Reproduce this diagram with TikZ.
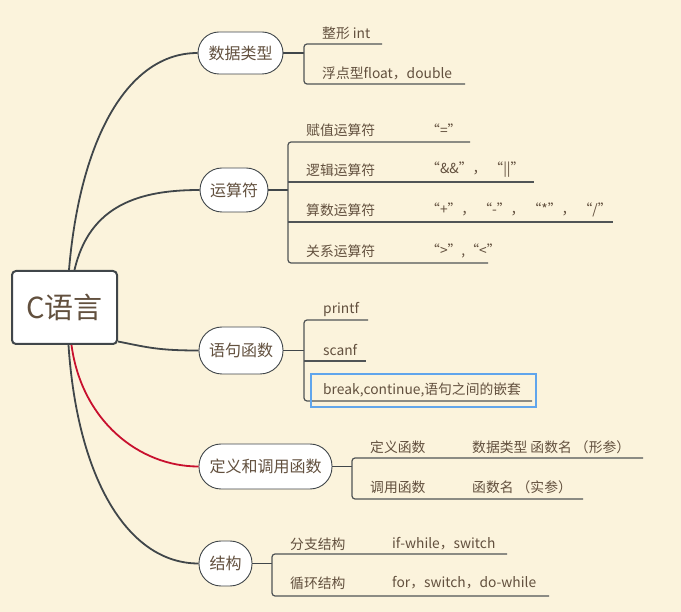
\documentclass[tikz,border=0pt]{standalone}
\usepackage{fontspec}
\setmainfont{Noto Sans CJK SC}
\definecolor{bg}{RGB}{251,243,220}
\definecolor{ln}{RGB}{64,70,74}
\definecolor{tx}{RGB}{98,80,62}
\definecolor{rd}{RGB}{200,16,46}
\definecolor{bl}{RGB}{96,165,236}
\definecolor{ul}{RGB}{80,84,86}
\begin{document}
\begin{tikzpicture}[x=1pt,y=-1pt,
  pill/.style={draw=ln, line width=0.9pt, fill=white, rounded corners=21pt, text=tx, font=\fontsize{16}{18}\selectfont, inner sep=0pt},
  leaf/.style={anchor=west, inner sep=0pt, text=tx, font=\fontsize{13.8}{15}\selectfont},
  conn/.style={draw=ln, line width=1.8pt},
  stub/.style={draw=ln, line width=1.5pt},
  brk/.style={draw=ul, line width=1.2pt, rounded corners=3pt},
  uline/.style={draw=ul, line width=1.2pt}]
\fill[bg] (0,0) rectangle (681,612);
\useasboundingbox (0,0) rectangle (681,612);

% central node
\node[draw=ln, line width=2pt, fill=white, rounded corners=4pt, minimum width=105pt, minimum height=73pt, text=tx, font=\fontsize{29}{31}\selectfont, inner sep=0pt] (c) at (64.5,307.5) {C语言};

% branch nodes
\node[pill, minimum width=85pt, minimum height=42pt] (dt) at (240.5,53) {数据类型};
\node[pill, minimum width=68pt, minimum height=44pt, rounded corners=22pt] (ys) at (234,190) {运算符};
\node[pill, minimum width=84pt, minimum height=47pt, rounded corners=23pt] (yj) at (241,350.5) {语句函数};
\node[pill, minimum width=133pt, minimum height=45pt, rounded corners=22pt] (dy) at (265.5,466.5) {定义和调用函数};
\node[pill, minimum width=53pt, minimum height=45pt, rounded corners=22pt] (jg) at (225.5,563.5) {结构};

% main connectors
\draw[conn] ([xshift=4.5pt]c.north) .. controls +(11,-131) and +(-70,0) .. (dt.west);
\draw[conn] ([xshift=10pt]c.north) .. controls +(15,-65) and +(-60,0) .. (ys.west);
\draw[conn] ([yshift=-34pt]c.east) .. controls +(30,6) and +(-40,0) .. (yj.west);
\draw[conn, draw=rd] ([xshift=7pt]c.south) .. controls +(10,75) and +(-60,0) .. (dy.west);
\draw[conn] ([xshift=4pt]c.south) .. controls +(9,135) and +(-70,0) .. (jg.west);

% 数据类型
\coordinate (dtb) at (304,53);
\draw[stub] (dt.east) -- (dtb);
\draw[brk] (382,44) -- (304,44) -- (304,84) -- (465,84);
\node[leaf] (dt1) at (322,33) {整形 int};
\node[leaf] (dt2) at (322,73) {浮点型float，double};

% 运算符
\coordinate (ysb) at (288,190);
\draw[stub] (ys.east) -- (ysb);
\draw[brk] (470,142) -- (288,142) -- (288,263) -- (488,263);
\draw[uline] (288,182) -- (534,182);
\draw[uline] (288,222) -- (613,222);
\node[leaf] (ys1) at (306,130) {赋值运算符};
\node[leaf] (ys2) at (306,170) {逻辑运算符};
\node[leaf] (ys3) at (306,210) {算数运算符};
\node[leaf] (ys4) at (306,251) {关系运算符};
\node[leaf] (ys1b) at (426,130) {“=”};
\node[leaf] (ys2b) at (426,170) {“\&\&”，\ “||”};
\node[leaf] (ys3b) at (426,210) {“+”，\ “-”，\ “*”，\ “/”};
\node[leaf] (ys4b) at (426,251) {“>",“<"};

% 语句函数
\coordinate (yjb) at (304,350.5);
\draw[stub] (yj.east) -- (yjb);
\draw[brk] (368,320) -- (304,320) -- (304,401) -- (532,401);
\draw[uline] (304,361) -- (366,361);
\node[leaf] (yj1) at (323,309) {printf};
\node[leaf] (yj2) at (323,350) {scanf};
\node[leaf] (yj3) at (323,390) {break,continue,语句之间的嵌套};
\draw[draw=bl, line width=1.8pt] (311,374) rectangle (536,407);

% 定义和调用函数
\coordinate (dyb) at (352,466.5);
\draw[stub] (dy.east) -- (dyb);
\draw[brk] (643,458) -- (352,458) -- (352,499) -- (583,499);
\node[leaf] (dy1) at (370,447) {定义函数};
\node[leaf] (dy2) at (370,487) {调用函数};
\node[leaf] (dy1b) at (472,447) {数据类型 函数名 （形参）};
\node[leaf] (dy2b) at (472,487) {函数名 （实参）};

% 结构
\coordinate (jgb) at (272,563.5);
\draw[stub] (jg.east) -- (jgb);
\draw[brk] (507,554) -- (272,554) -- (272,596) -- (549,596);
\node[leaf] (jg1) at (290,544) {分支结构};
\node[leaf] (jg2) at (290,583) {循环结构};
\node[leaf] (jg1b) at (392,544) {if-while，switch};
\node[leaf] (jg2b) at (392,583) {for，switch，do-while};
\end{tikzpicture}
\end{document}
